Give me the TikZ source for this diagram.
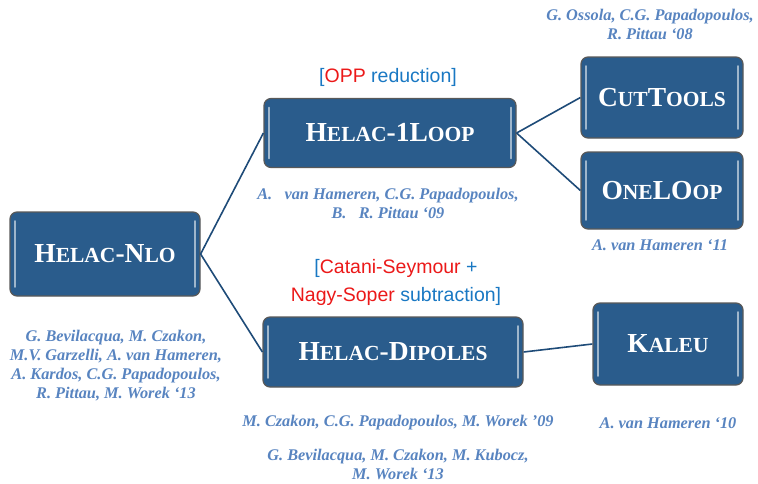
\documentclass[tikz,border=0pt]{standalone}
\usepackage{fontspec}
\setmainfont{Liberation Serif}
\newfontfamily\sansf{Liberation Sans}
\definecolor{boxblue}{RGB}{42,92,140}
\definecolor{edgeblue}{RGB}{30,75,120}
\definecolor{authblue}{RGB}{88,132,192}
\definecolor{refblue}{RGB}{25,120,195}
\definecolor{refred}{RGB}{235,25,25}
\newcommand{\capbig}[1]{{\fontsize{27.5}{30}\selectfont #1}}
\newcommand{\capsml}[1]{{\fontsize{21.5}{24}\selectfont #1}}
\tikzset{
  prog/.style={draw=black!65,line width=1.2pt,fill=boxblue,rounded corners=7pt,
    text=white,font=\bfseries,inner sep=0pt,
    path picture={
      \draw[white!55!boxblue,line width=1.6pt,line cap=round]
        ([xshift=5pt,yshift=-9pt]path picture bounding box.north west) --
        ([xshift=5pt,yshift=9pt]path picture bounding box.south west);
      \draw[white!55!boxblue,line width=1.6pt,line cap=round]
        ([xshift=-5pt,yshift=-9pt]path picture bounding box.north east) --
        ([xshift=-5pt,yshift=9pt]path picture bounding box.south east);}},
  auth/.style={text=authblue,font=\fontsize{16.3}{19}\selectfont\bfseries\itshape,align=center,inner sep=1pt},
  meth/.style={font=\sansf\fontsize{19.5}{28}\selectfont,align=center},
  link/.style={draw=edgeblue,line width=1.6pt}
}
\begin{document}
\begin{tikzpicture}[x=1pt,y=-1pt]
\useasboundingbox (0,0) rectangle (758,483);
%NODE
\node[prog,minimum width=190pt,minimum height=84pt] (NLO) at (105,254)
  {\capbig{H}\capsml{ELAC}\capbig{-N}\capsml{LO}};
\node[prog,minimum width=252pt,minimum height=69pt] (LOOP) at (390,133)
  {\capbig{H}\capsml{ELAC}\capbig{-1L}\capsml{OOP}};
\node[prog,minimum width=162pt,minimum height=81pt] (CUT) at (662,97.5)
  {\capbig{C}\capsml{UT}\capbig{T}\capsml{OOLS}};
\node[prog,minimum width=162pt,minimum height=77pt] (ONE) at (662,190.5)
  {\capbig{O}\capsml{NE}\capbig{LO}\capsml{OP}};
\node[prog,minimum width=260pt,minimum height=70pt] (DIP) at (393,352)
  {\capbig{H}\capsml{ELAC}\capbig{-D}\capsml{IPOLES}};
\node[prog,minimum width=150pt,minimum height=82pt] (KAL) at (668,344)
  {\capbig{K}\capsml{ALEU}};

%TEXT
\node[auth] (refCUT) at (650,24) {G. Ossola, C.G. Papadopoulos,\\R. Pittau ‘08};
\node[meth] (oppLOOP) at (388,77)
  {\textcolor{refblue}{[}\textcolor{refred}{OPP} \textcolor{refblue}{reduction]}};
\node[auth] (refLOOP) at (388,203) {A.\ \ \ van Hameren, C.G. Papadopoulos,\\B.\ \ \ R. Pittau ‘09};
\node[auth] (refONE) at (660,245) {A. van Hameren ‘11};
\node[meth] (subDIP) at (396,282)
  {\textcolor{refblue}{[}\textcolor{refred}{Catani-Seymour} \textcolor{refblue}{+}\\
   \textcolor{refred}{Nagy-Soper} \textcolor{refblue}{subtraction]}};
\node[auth] (refNLO) at (116,366) {G. Bevilacqua, M. Czakon,\\M.V. Garzelli, A. van Hameren,\\A. Kardos, C.G. Papadopoulos,\\R. Pittau, M. Worek ‘13};
\node[auth] (refDIP) at (398,423) {M. Czakon, C.G. Papadopoulos, M. Worek ’09};
\node[auth] (refKAL) at (668,423) {A. van Hameren ‘10};
\node[auth] (refDIPb) at (398,464) {G. Bevilacqua, M. Czakon, M. Kubocz,\\M. Worek ‘13};

%EDGE
\draw[link] (NLO.east) -- (LOOP.west);
\draw[link] (NLO.east) -- (DIP.west);
\draw[link] (LOOP.east) -- (CUT.west);
\draw[link] (LOOP.east) -- (ONE.west);
\draw[link] (DIP.east) -- (KAL.west);
\end{tikzpicture}
\end{document}
